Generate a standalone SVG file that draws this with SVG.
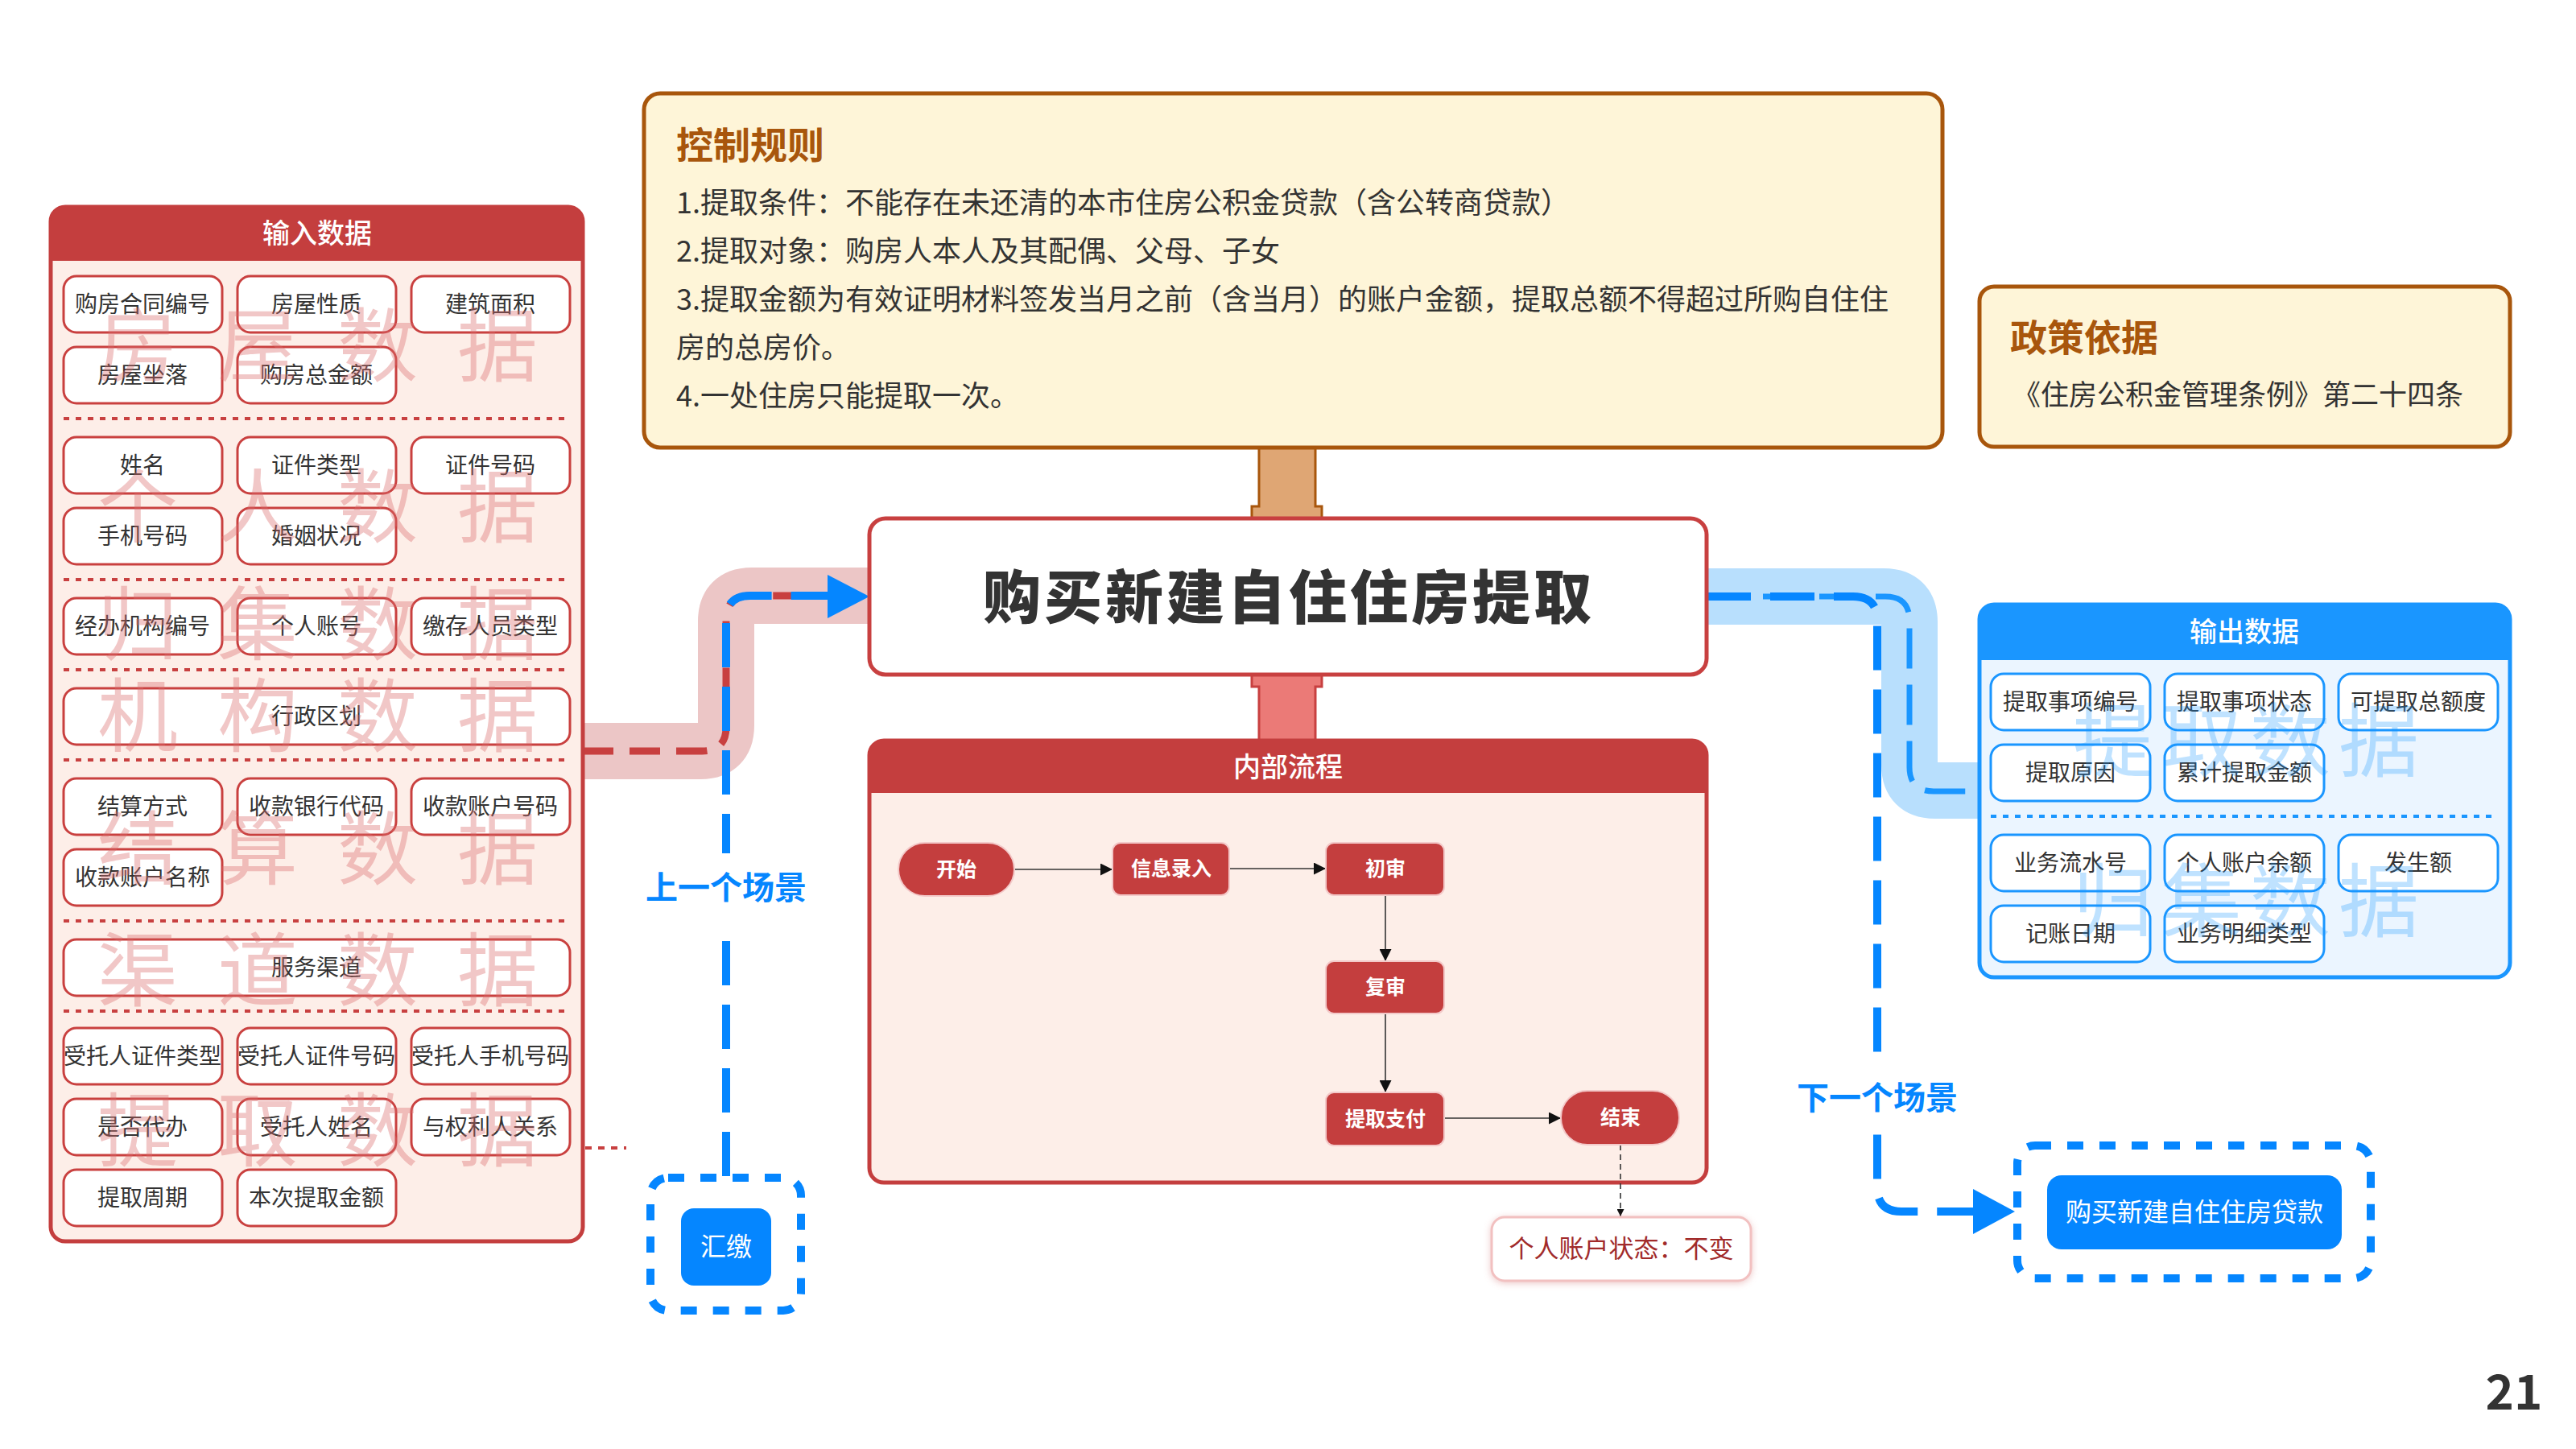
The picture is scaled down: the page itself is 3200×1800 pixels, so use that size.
<svg xmlns="http://www.w3.org/2000/svg" width="3200" height="1800" viewBox="0 0 3200 1800">
<defs>
<style>
text{font-family:"Noto Sans CJK SC","Noto Sans",sans-serif;}
.ibox{fill:#fff;stroke:#C9403F;stroke-width:3;}
.obox{fill:#fff;stroke:#1A96FF;stroke-width:3;}
.btxt{font-size:28px;fill:#333;text-anchor:middle;}
.hdr{font-size:34px;fill:#fff;text-anchor:middle;font-weight:500;}
.wmr{font-size:100px;fill:#D96B6B;fill-opacity:0.38;text-anchor:middle;}
.wmb{font-size:100px;fill:#1A96FF;fill-opacity:0.28;text-anchor:middle;}
.sepr{stroke:#C84040;stroke-width:4;stroke-dasharray:7 8;}
.sepb{stroke:#1A96FF;stroke-width:4;stroke-dasharray:7 8;}
.rule{font-size:36px;fill:#333;}
.fnode{fill:#C43E3E;stroke:#F3C9C9;stroke-width:2;}
.ftxt{font-size:25px;fill:#fff;font-weight:700;text-anchor:middle;}
.flow{stroke:#333;stroke-width:1.6;fill:none;}
.scene{font-size:40px;fill:#0586FF;font-weight:700;text-anchor:middle;}
.dbox{fill:none;stroke:#0586FF;stroke-width:10;stroke-dasharray:20 20;}
.bbtn{fill:#0586FF;}
.btn{font-size:32px;fill:#fff;text-anchor:middle;}
</style>
<marker id="ah" viewBox="0 0 10 10" refX="10" refY="5" markerWidth="9" markerHeight="9" markerUnits="userSpaceOnUse" orient="auto"><path d="M0 0L10 5L0 10Z" fill="#111"/></marker>
<marker id="ah2" viewBox="0 0 10 10" refX="10" refY="5" markerWidth="15" markerHeight="15" markerUnits="userSpaceOnUse" orient="auto"><path d="M0 0L10 5L0 10Z" fill="#111"/></marker>
<filter id="sh" x="-10%" y="-20%" width="120%" height="150%"><feDropShadow dx="0" dy="2" stdDeviation="4" flood-color="#D98888" flood-opacity="0.45"/></filter>
</defs>
<rect width="3200" height="1800" fill="#fff"/>

<g id="connectors">
  <path d="M724 933 H870 Q902 933 902 901 V772 Q902 740 934 740 H1080" fill="none" stroke="#ECC6C6" stroke-width="70"/>
  <path d="M724 933 H872 Q902 933 902 903 V770 Q902 740 932 740 H1030" fill="none" stroke="#C84040" stroke-width="9" stroke-dasharray="38 20"/>
  <path d="M902 1461 V770 Q902 740 932 740 H1032" fill="none" stroke="#0586FF" stroke-width="10" stroke-dasharray="55 24"/>
  <polygon points="1028,714 1080,741 1028,768" fill="#0586FF"/>
  <path d="M727 1426 H778" stroke="#C84040" stroke-width="4" stroke-dasharray="8 8"/>
  <path d="M2120 741 H2340 Q2372 741 2372 773 V950 Q2372 982 2404 982 H2457" fill="none" stroke="#B8DFFD" stroke-width="70"/>
  <path d="M2120 741 H2342 Q2372 741 2372 771 V953 Q2372 983 2402 983 H2457" fill="none" stroke="#1A96FF" stroke-width="7" stroke-dasharray="50 20"/>
  <path d="M2120 741 H2302 Q2332 741 2332 771 V1475 Q2332 1505 2362 1505 H2455" fill="none" stroke="#0586FF" stroke-width="10" stroke-dasharray="55 24"/>
  <polygon points="2451,1477 2503,1505 2451,1533" fill="#0586FF"/>
  <path d="M1564 556 H1634 V629 H1642 V645 H1555 V629 H1564 Z" fill="#DFA674" stroke="#A8560C" stroke-width="3"/>
  <path d="M1555 838 H1642 V853 H1634 V922 H1564 V853 H1555 Z" fill="#EB7A77" stroke="#C84040" stroke-width="3"/>
</g>

<g id="scene-labels">
  <rect x="800" y="1060" width="204" height="86" fill="#fff"/>
  <text class="scene" x="902" y="1117">上一个场景</text>
  <rect x="2230" y="1318" width="204" height="88" fill="#fff"/>
  <text class="scene" x="2332" y="1378">下一个场景</text>
</g>

<g id="input-panel">
  <rect x="63" y="257" width="661" height="1285" rx="18" fill="#FDEEE8" stroke="#C43E3E" stroke-width="5"/>
  <path d="M63 324 V275 Q63 257 81 257 H706 Q724 257 724 275 V324 Z" fill="#C43E3E"/>
  <text class="hdr" x="394" y="302">输入数据</text>
  <g>
    <line class="sepr" x1="79" y1="520" x2="709" y2="520"/>
    <line class="sepr" x1="79" y1="720" x2="709" y2="720"/>
    <line class="sepr" x1="79" y1="832" x2="709" y2="832"/>
    <line class="sepr" x1="79" y1="944" x2="709" y2="944"/>
    <line class="sepr" x1="79" y1="1144" x2="709" y2="1144"/>
    <line class="sepr" x1="79" y1="1256" x2="709" y2="1256"/>
  </g>
</g>

<g id="in-01"><rect class="ibox" x="79" y="343" width="197" height="70" rx="16"/><text class="btxt" x="177" y="388">购房合同编号</text></g>
<g id="in-02"><rect class="ibox" x="295" y="343" width="197" height="70" rx="16"/><text class="btxt" x="393" y="388">房屋性质</text></g>
<g id="in-03"><rect class="ibox" x="511" y="343" width="197" height="70" rx="16"/><text class="btxt" x="609" y="388">建筑面积</text></g>
<g id="in-04"><rect class="ibox" x="79" y="431" width="197" height="70" rx="16"/><text class="btxt" x="177" y="476">房屋坐落</text></g>
<g id="in-05"><rect class="ibox" x="295" y="431" width="197" height="70" rx="16"/><text class="btxt" x="393" y="476">购房总金额</text></g>
<g id="in-06"><rect class="ibox" x="79" y="543" width="197" height="70" rx="16"/><text class="btxt" x="177" y="588">姓名</text></g>
<g id="in-07"><rect class="ibox" x="295" y="543" width="197" height="70" rx="16"/><text class="btxt" x="393" y="588">证件类型</text></g>
<g id="in-08"><rect class="ibox" x="511" y="543" width="197" height="70" rx="16"/><text class="btxt" x="609" y="588">证件号码</text></g>
<g id="in-09"><rect class="ibox" x="79" y="631" width="197" height="70" rx="16"/><text class="btxt" x="177" y="676">手机号码</text></g>
<g id="in-10"><rect class="ibox" x="295" y="631" width="197" height="70" rx="16"/><text class="btxt" x="393" y="676">婚姻状况</text></g>
<g id="in-11"><rect class="ibox" x="79" y="743" width="197" height="70" rx="16"/><text class="btxt" x="177" y="788">经办机构编号</text></g>
<g id="in-12"><rect class="ibox" x="295" y="743" width="197" height="70" rx="16"/><text class="btxt" x="393" y="788">个人账号</text></g>
<g id="in-13"><rect class="ibox" x="511" y="743" width="197" height="70" rx="16"/><text class="btxt" x="609" y="788">缴存人员类型</text></g>
<g id="in-14"><rect class="ibox" x="79" y="855" width="629" height="70" rx="16"/><text class="btxt" x="393" y="900">行政区划</text></g>
<g id="in-15"><rect class="ibox" x="79" y="967" width="197" height="70" rx="16"/><text class="btxt" x="177" y="1012">结算方式</text></g>
<g id="in-16"><rect class="ibox" x="295" y="967" width="197" height="70" rx="16"/><text class="btxt" x="393" y="1012">收款银行代码</text></g>
<g id="in-17"><rect class="ibox" x="511" y="967" width="197" height="70" rx="16"/><text class="btxt" x="609" y="1012">收款账户号码</text></g>
<g id="in-18"><rect class="ibox" x="79" y="1055" width="197" height="70" rx="16"/><text class="btxt" x="177" y="1100">收款账户名称</text></g>
<g id="in-19"><rect class="ibox" x="79" y="1167" width="629" height="70" rx="16"/><text class="btxt" x="393" y="1212">服务渠道</text></g>
<g id="in-20"><rect class="ibox" x="79" y="1277" width="197" height="70" rx="16"/><text class="btxt" x="177" y="1322">受托人证件类型</text></g>
<g id="in-21"><rect class="ibox" x="295" y="1277" width="197" height="70" rx="16"/><text class="btxt" x="393" y="1322">受托人证件号码</text></g>
<g id="in-22"><rect class="ibox" x="511" y="1277" width="197" height="70" rx="16"/><text class="btxt" x="609" y="1322">受托人手机号码</text></g>
<g id="in-23"><rect class="ibox" x="79" y="1365" width="197" height="70" rx="16"/><text class="btxt" x="177" y="1410">是否代办</text></g>
<g id="in-24"><rect class="ibox" x="295" y="1365" width="197" height="70" rx="16"/><text class="btxt" x="393" y="1410">受托人姓名</text></g>
<g id="in-25"><rect class="ibox" x="511" y="1365" width="197" height="70" rx="16"/><text class="btxt" x="609" y="1410">与权利人关系</text></g>
<g id="in-26"><rect class="ibox" x="79" y="1453" width="197" height="70" rx="16"/><text class="btxt" x="177" y="1498">提取周期</text></g>
<g id="in-27"><rect class="ibox" x="295" y="1453" width="197" height="70" rx="16"/><text class="btxt" x="393" y="1498">本次提取金额</text></g>

<g id="input-watermarks">
  <text class="wmr" x="171 320 469 618" y="466">房屋数据</text>
  <text class="wmr" x="171 320 469 618" y="666">个人数据</text>
  <text class="wmr" x="171 320 469 618" y="812">归集数据</text>
  <text class="wmr" x="171 320 469 618" y="926">机构数据</text>
  <text class="wmr" x="171 320 469 618" y="1091">结算数据</text>
  <text class="wmr" x="171 320 469 618" y="1242">渠道数据</text>
  <text class="wmr" x="171 320 469 618" y="1441">提取数据</text>
</g>

<g id="control-rules">
  <rect x="800" y="116" width="1613" height="440" rx="20" fill="#FEF5D8" stroke="#A8560C" stroke-width="5"/>
  <text x="840" y="197" font-size="46" font-weight="700" fill="#A8560C">控制规则</text>
  <text class="rule" x="840" y="265">1.提取条件：不能存在未还清的本市住房公积金贷款（含公转商贷款）</text>
  <text class="rule" x="840" y="325">2.提取对象：购房人本人及其配偶、父母、子女</text>
  <text class="rule" x="840" y="385">3.提取金额为有效证明材料签发当月之前（含当月）的账户金额，提取总额不得超过所购自住住</text>
  <text class="rule" x="840" y="445">房的总房价。</text>
  <text class="rule" x="840" y="505">4.一处住房只能提取一次。</text>
</g>

<g id="policy">
  <rect x="2459" y="356" width="659" height="199" rx="18" fill="#FEF5D8" stroke="#A8560C" stroke-width="5"/>
  <text x="2497" y="436" font-size="46" font-weight="700" fill="#A8560C">政策依据</text>
  <text x="2500" y="503" font-size="35" fill="#333">《住房公积金管理条例》第二十四条</text>
</g>

<g id="main-title">
  <rect x="1080" y="644" width="1040" height="194" rx="20" fill="#fff" stroke="#C84040" stroke-width="5"/>
  <text x="1601" y="768" font-size="72" font-weight="900" fill="#333" text-anchor="middle" letter-spacing="4">购买新建自住住房提取</text>
</g>

<g id="internal-flow">
  <rect x="1080" y="920" width="1040" height="549" rx="18" fill="#FDEEE8" stroke="#C43E3E" stroke-width="5"/>
  <path d="M1080 985 V938 Q1080 920 1098 920 H2102 Q2120 920 2120 938 V985 Z" fill="#C43E3E"/>
  <text class="hdr" x="1600" y="965" font-size="33">内部流程</text>
</g>

<g id="flow-connectors">
  <path class="flow" d="M1259 1080 H1382" marker-end="url(#ah2)"/>
  <path class="flow" d="M1527 1079 H1647" marker-end="url(#ah2)"/>
  <path class="flow" d="M1721 1112 V1194" marker-end="url(#ah2)"/>
  <path class="flow" d="M1721 1259 V1357" marker-end="url(#ah2)"/>
  <path class="flow" d="M1794 1389 H1939" marker-end="url(#ah2)"/>
  <path class="flow" d="M2013 1422 V1511" stroke-dasharray="7 5" marker-end="url(#ah)"/>
</g>

<g id="f-start"><rect class="fnode" x="1116" y="1047" width="144" height="66" rx="33"/><text class="ftxt" x="1188" y="1089">开始</text></g>
<g id="f-input"><rect class="fnode" x="1382" y="1047" width="145" height="65" rx="10"/><text class="ftxt" x="1455" y="1088">信息录入</text></g>
<g id="f-first"><rect class="fnode" x="1647" y="1047" width="147" height="65" rx="10"/><text class="ftxt" x="1721" y="1088">初审</text></g>
<g id="f-second"><rect class="fnode" x="1647" y="1194" width="147" height="65" rx="10"/><text class="ftxt" x="1721" y="1235">复审</text></g>
<g id="f-pay"><rect class="fnode" x="1647" y="1357" width="147" height="66" rx="10"/><text class="ftxt" x="1721" y="1399">提取支付</text></g>
<g id="f-end"><rect class="fnode" x="1939" y="1355" width="147" height="67" rx="33"/><text class="ftxt" x="2013" y="1397">结束</text></g>
<g id="f-note"><rect x="1853" y="1512" width="322" height="79" rx="16" fill="#fff" stroke="#F2C0C0" stroke-width="3" filter="url(#sh)"/><text x="2014" y="1562" font-size="31" fill="#A12B2B" text-anchor="middle">个人账户状态：不变</text></g>

<g id="output-panel">
  <rect x="2459" y="751" width="659" height="463" rx="18" fill="#EBF5FF" stroke="#1A96FF" stroke-width="5"/>
  <path d="M2459 820 V769 Q2459 751 2477 751 H3100 Q3118 751 3118 769 V820 Z" fill="#1A96FF"/>
  <text class="hdr" x="2788" y="797">输出数据</text>
  <line class="sepb" x1="2473" y1="1014" x2="3103" y2="1014"/>
</g>
<g id="out-01"><rect class="obox" x="2473" y="837" width="198" height="70" rx="16"/><text class="btxt" x="2572" y="882">提取事项编号</text></g>
<g id="out-02"><rect class="obox" x="2689" y="837" width="198" height="70" rx="16"/><text class="btxt" x="2788" y="882">提取事项状态</text></g>
<g id="out-03"><rect class="obox" x="2905" y="837" width="198" height="70" rx="16"/><text class="btxt" x="3004" y="882">可提取总额度</text></g>
<g id="out-04"><rect class="obox" x="2473" y="925" width="198" height="70" rx="16"/><text class="btxt" x="2572" y="970">提取原因</text></g>
<g id="out-05"><rect class="obox" x="2689" y="925" width="198" height="70" rx="16"/><text class="btxt" x="2788" y="970">累计提取金额</text></g>
<g id="out-06"><rect class="obox" x="2473" y="1037" width="198" height="70" rx="16"/><text class="btxt" x="2572" y="1082">业务流水号</text></g>
<g id="out-07"><rect class="obox" x="2689" y="1037" width="198" height="70" rx="16"/><text class="btxt" x="2788" y="1082">个人账户余额</text></g>
<g id="out-08"><rect class="obox" x="2905" y="1037" width="198" height="70" rx="16"/><text class="btxt" x="3004" y="1082">发生额</text></g>
<g id="out-09"><rect class="obox" x="2473" y="1125" width="198" height="70" rx="16"/><text class="btxt" x="2572" y="1170">记账日期</text></g>
<g id="out-10"><rect class="obox" x="2689" y="1125" width="198" height="70" rx="16"/><text class="btxt" x="2788" y="1170">业务明细类型</text></g>
<g id="output-watermarks">
  <text class="wmb" x="2625 2735 2845 2955" y="957">提取数据</text>
  <text class="wmb" x="2625 2735 2845 2955" y="1156">归集数据</text>
</g>

<g id="prev-scene">
  <rect class="dbox" x="808" y="1463" width="187" height="165" rx="22"/>
  <rect class="bbtn" x="846" y="1501" width="112" height="96" rx="16"/>
  <text class="btn" x="902" y="1560">汇缴</text>
</g>
<g id="next-scene">
  <rect class="dbox" x="2506" y="1423" width="439" height="165" rx="22"/>
  <rect class="bbtn" x="2543" y="1460" width="366" height="92" rx="18"/>
  <text class="btn" x="2726" y="1517">购买新建自住住房贷款</text>
</g>

<text x="3123" y="1751" font-family="Inter,'Liberation Sans',sans-serif" font-size="60" font-weight="600" fill="#333" text-anchor="middle">21</text>
</svg>
